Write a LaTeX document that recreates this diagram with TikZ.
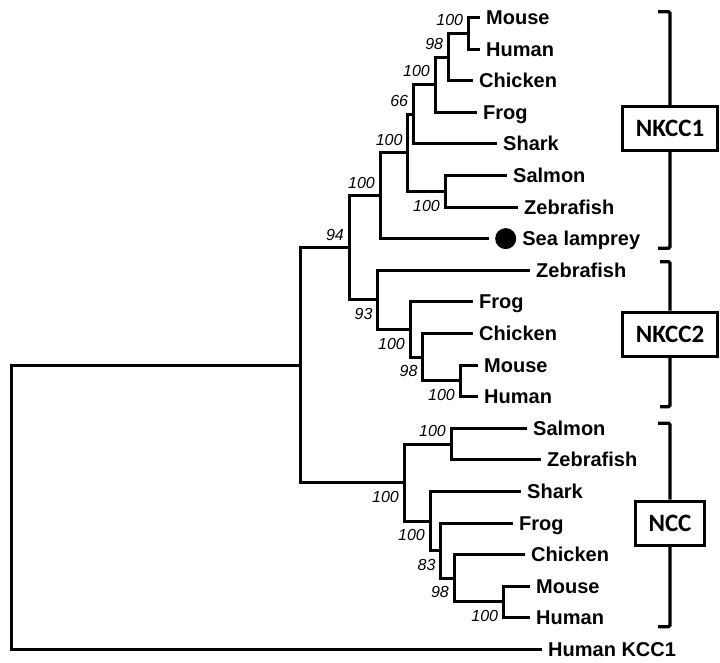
\documentclass[tikz,border=0pt]{standalone}
\usepackage{fontspec}
\setmainfont{Liberation Sans}
\newfontfamily\groupfont{Carlito}
\usetikzlibrary{positioning}
\tikzset{leaf/.style={anchor=west, font=\bfseries\fontsize{20}{24}\selectfont, inner xsep=6pt, inner ysep=2pt, text height=14pt, text depth=0pt}}
\tikzset{boot/.style={font=\itshape\fontsize{16}{18}\selectfont, inner sep=3pt, text height=11.5pt, text depth=0pt}}
\tikzset{bootup/.style={boot, anchor=south east, xshift=-2pt, yshift=4.5pt}}
\tikzset{bootdown/.style={boot, anchor=north east, xshift=-2pt, yshift=-5pt}}
\tikzset{group/.style={draw, line width=3pt, fill=white, font=\groupfont\bfseries\fontsize{25}{30}\selectfont, inner xsep=13pt, minimum height=44pt}}
\tikzstyle{branch} = [line width=3pt, line join=miter]
\tikzstyle{bracket} = [line width=3.3pt, rounded corners=1.5pt]

\begin{document}
\begin{tikzpicture}[x=1pt, y=-1pt]
	\useasboundingbox (0,0) rectangle (720,662);
	% Leaves
		\node (k1mouse) [leaf] at (480,17.5) {Mouse};
		\node (k1human) [leaf] at (480,49.1) {Human};
		\node (k1chicken) [leaf] at (473,80.7) {Chicken};
		\node (k1frog) [leaf] at (477,112.3) {Frog};
		\node (k1shark) [leaf] at (497,143.9) {Shark};
		\node (k1salmon) [leaf] at (507,175.5) {Salmon};
		\node (k1zebrafish) [leaf] at (518,207.0) {Zebrafish};
		\node (dot) [circle, fill, minimum size=21pt, inner sep=0pt, outer sep=6pt] at (505.7,238.6) {};
		\node (lamprey) [leaf, right=-6pt of dot] {Sea lamprey};

		\node (k2zebrafish) [leaf] at (530,270.2) {Zebrafish};
		\node (k2frog) [leaf] at (473,301.8) {Frog};
		\node (k2chicken) [leaf] at (473,333.4) {Chicken};
		\node (k2mouse) [leaf] at (478,365.0) {Mouse};
		\node (k2human) [leaf] at (478,396.6) {Human};

		\node (nccsalmon) [leaf] at (527,428.2) {Salmon};
		\node (ncczebrafish) [leaf] at (541,459.8) {Zebrafish};
		\node (nccshark) [leaf] at (521,491.4) {Shark};
		\node (nccfrog) [leaf] at (513,523.0) {Frog};
		\node (nccchicken) [leaf] at (525,554.5) {Chicken};
		\node (nccmouse) [leaf] at (530,586.1) {Mouse};
		\node (ncchuman) [leaf] at (530,617.7) {Human};
		\node (kcc1) [leaf] at (542,649.3) {Human KCC1};

	% Internal nodes
		\coordinate (a1) at (468.3,33.3);
		\coordinate (a2) at (448.3,57.0);
		\coordinate (a3) at (435,84.6);
		\coordinate (a4) at (413.3,114.3);
		\coordinate (a5) at (445,191.3);
		\coordinate (a6) at (407.7,152.8);
		\coordinate (a7) at (380,195.7);
		\coordinate (b1) at (460,380.8);
		\coordinate (b2) at (422.7,357.1);
		\coordinate (b3) at (410,329.5);
		\coordinate (b4) at (377.7,299.8);
		\coordinate (c) at (349,247.8);
		\coordinate (d1) at (503.3,601.9);
		\coordinate (d2) at (454,578.2);
		\coordinate (d3) at (440.7,550.6);
		\coordinate (d4) at (430,521.0);
		\coordinate (d5) at (451,444.0);
		\coordinate (d6) at (404,482.5);
		\coordinate (e) at (300,365.2);
		\coordinate (root) at (11,507.2);

	% Branches
	\begin{scope}[branch]
		\draw (a1) |- (k1mouse.west);
		\draw (a1) |- (k1human.west);
		\draw (a2) |- (a1);
		\draw (a2) |- (k1chicken.west);
		\draw (a3) |- (a2);
		\draw (a3) |- (k1frog.west);
		\draw (a4) |- (a3);
		\draw (a4) |- (k1shark.west);
		\draw (a5) |- (k1salmon.west);
		\draw (a5) |- (k1zebrafish.west);
		\draw (a6) |- (a4);
		\draw (a6) |- (a5);
		\draw (a7) |- (a6);
		\draw (a7) |- (dot);
		\draw (c) |- (a7);
		\draw (c) |- (b4);
		\draw (b4) |- (k2zebrafish.west);
		\draw (b4) |- (b3);
		\draw (b3) |- (k2frog.west);
		\draw (b3) |- (b2);
		\draw (b2) |- (k2chicken.west);
		\draw (b2) |- (b1);
		\draw (b1) |- (k2mouse.west);
		\draw (b1) |- (k2human.west);
		\draw (e) |- (c);
		\draw (e) |- (d6);
		\draw (d6) |- (d5);
		\draw (d6) |- (d4);
		\draw (d5) |- (nccsalmon.west);
		\draw (d5) |- (ncczebrafish.west);
		\draw (d4) |- (nccshark.west);
		\draw (d4) |- (d3);
		\draw (d3) |- (nccfrog.west);
		\draw (d3) |- (d2);
		\draw (d2) |- (nccchicken.west);
		\draw (d2) |- (d1);
		\draw (d1) |- (nccmouse.west);
		\draw (d1) |- (ncchuman.west);
		\draw (root) |- (e);
		\draw (root) |- (kcc1.west);
	\end{scope}

	% Bootstrap values
		\node [bootup] at (a1) {100};
		\node [bootup] at (a2) {98};
		\node [bootup] at (a3) {100};
		\node [bootup] at (a4) {66};
		\node [bootdown] at (a5) {100};
		\node [bootup] at (a6) {100};
		\node [bootup] at (a7) {100};
		\node [bootup] at (c) {94};
		\node [bootdown] at (b4) {93};
		\node [bootdown] at (b3) {100};
		\node [bootdown] at (b2) {98};
		\node [bootdown] at (b1) {100};
		\node [bootup] at (d5) {100};
		\node [bootdown] at (d6) {100};
		\node [bootdown] at (d4) {100};
		\node [bootdown] at (d3) {83};
		\node [bootdown] at (d2) {98};
		\node [bootdown] at (d1) {100};

	% Groups
		\coordinate (k1top) at (658,11.7);
		\coordinate (k1bot) at (658,248.3);
		\coordinate (k2top) at (660,261.7);
		\coordinate (k2bot) at (660,406.7);
		\coordinate (ncctop) at (658,423.3);
		\coordinate (nccbot) at (658,626.7);
		\node (nkcc1) [group] at (670,128.3) {NKCC1};
		\node (nkcc2) [group] at (670,334) {NKCC2};
		\node (ncc) [group] at (670,523) {NCC};
		\draw [bracket] (nkcc1.north) |- (k1top);
		\draw [bracket] (nkcc1.south) |- (k1bot);
		\draw [bracket] (nkcc2.north) |- (k2top);
		\draw [bracket] (nkcc2.south) |- (k2bot);
		\draw [bracket] (ncc.north) |- (ncctop);
		\draw [bracket] (ncc.south) |- (nccbot);
\end{tikzpicture}
\end{document}
